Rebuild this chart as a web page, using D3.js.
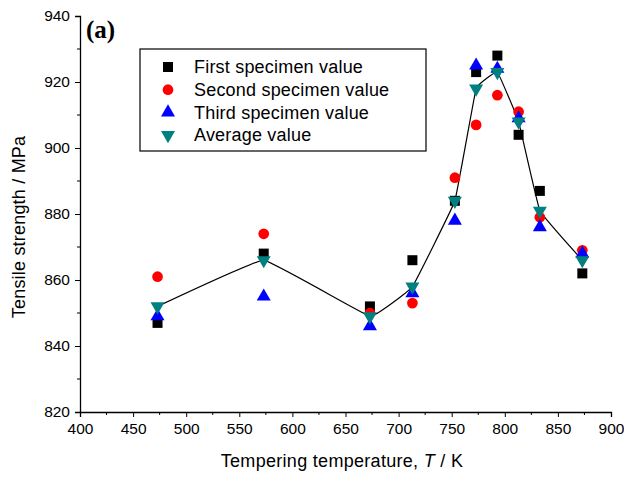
<!DOCTYPE html>
<html>
<head>
<meta charset="utf-8">
<script src="https://cdn.jsdelivr.net/npm/d3@7"></script>
<style>
  body { margin: 0; background: #fff; }
  text { font-family: "Liberation Sans", Arial, sans-serif; }
</style>
</head>
<body>
<svg width="624" height="477"></svg>
<script>
const temps = [473, 573, 673, 713, 753, 773, 793, 813, 833, 873];
const first = [847, 868, 852, 866, 884, 923, 928, 904, 887, 862];
const second = [861, 874, 850, 853, 891, 907, 916, 911, 879, 869];
const third = [849, 855, 846, 856, 878, 925, 924, 909, 876, 868];
const average = [852, 866, 849, 858, 884, 918, 923, 908, 881, 866];
const seriesNames = ['First specimen value', 'Second specimen value', 'Third specimen value', 'Average value'];
const xTicks = [400, 450, 500, 550, 600, 650, 700, 750, 800, 850, 900];
const yTicks = [820, 840, 860, 880, 900, 920, 940];

const svg = d3.select('svg');
const plotLeft = 80, plotRight = 611, plotTop = 16, plotBottom = 412;

const xScale = d3.scaleLinear().domain([400, 900]).range([plotLeft, plotRight]);
const yScale = d3.scaleLinear().domain([820, 940]).range([plotBottom, plotTop]);

// minor ticks
const xMinor = d3.range(425, 900, 50);
const yMinor = d3.range(830, 940, 20);

const xAxis = d3.axisBottom(xScale).tickValues(xTicks).tickSize(5).tickPadding(6);
const gx = svg.append('g')
    .attr('transform', `translate(0, ${plotBottom})`)
    .call(xAxis);
gx.selectAll('.minor')
    .data(xMinor).enter()
    .append('line')
    .attr('x1', d => xScale(d)).attr('x2', d => xScale(d))
    .attr('y1', 0).attr('y2', 3)
    .attr('stroke', '#000');

const yAxis = d3.axisLeft(yScale).tickValues(yTicks).tickSize(5).tickPadding(5);
const gy = svg.append('g')
    .attr('transform', `translate(${plotLeft}, 0)`)
    .call(yAxis);
gy.selectAll('.minor')
    .data(yMinor).enter()
    .append('line')
    .attr('x1', 0).attr('x2', -3)
    .attr('y1', d => yScale(d)).attr('y2', d => yScale(d))
    .attr('stroke', '#000');

[gx, gy].forEach(g => {
  g.select('.domain').attr('stroke', '#000').attr('stroke-width', 1.3);
  g.selectAll('.tick line').attr('stroke', '#000');
  g.selectAll('.tick text')
      .attr('fill', '#000')
      .style('font-size', '15.5px')
      .style('font-family', '"Liberation Sans", Arial, sans-serif');
});

// average line
const line = d3.line()
    .x(d => xScale(d[0]))
    .y(d => yScale(d[1]))
    .curve(d3.curveCardinal.tension(0.8));
svg.append('path')
    .datum(temps.map((t, i) => [t, average[i]]))
    .attr('d', line)
    .attr('fill', 'none')
    .attr('stroke', '#000')
    .attr('stroke-width', 1.2);

const styles = [
  { data: first, symbol: d3.symbolSquare, size: 100, color: '#000000', rotate: 0 },
  { data: second, symbol: d3.symbolCircle, size: 90, color: '#ff0000', rotate: 0 },
  { data: third, symbol: d3.symbolTriangle, size: 85, color: '#0000ff', rotate: 0 },
  { data: average, symbol: d3.symbolTriangle, size: 85, color: '#008080', rotate: 180 }
];

styles.forEach(s => {
  svg.append('g')
      .selectAll('path')
      .data(temps.map((t, i) => [t, s.data[i]]))
      .enter()
      .append('path')
      .attr('d', d3.symbol().type(s.symbol).size(s.size))
      .attr('transform', d => `translate(${xScale(d[0])}, ${yScale(d[1])}) rotate(${s.rotate})`)
      .attr('fill', s.color);
});

// legend
const legend = svg.append('g');
legend.append('rect')
    .attr('x', 140).attr('y', 49)
    .attr('width', 286).attr('height', 102)
    .attr('fill', '#fff')
    .attr('stroke', '#000')
    .attr('stroke-width', 1.2);
styles.forEach((s, i) => {
  const y = 67 + i * 22.7;
  legend.append('path')
      .attr('d', d3.symbol().type(s.symbol).size(s.size))
      .attr('transform', `translate(168, ${y}) rotate(${s.rotate})`)
      .attr('fill', s.color);
  legend.append('text')
      .attr('x', 194).attr('y', y)
      .attr('dy', '0.35em')
      .style('font-size', '18px')
      .style('letter-spacing', '0.2px')
      .text(seriesNames[i]);
});

// labels
svg.append('text')
    .attr('x', 86).attr('y', 38)
    .style('font-family', '"Liberation Serif", "Times New Roman", serif')
    .style('font-weight', 'bold')
    .style('font-size', '25px')
    .text('(a)');

svg.append('text')
    .attr('transform', `translate(25, 227) rotate(-90)`)
    .attr('text-anchor', 'middle')
    .style('font-size', '18px')
    .style('letter-spacing', '0.2px')
    .text('Tensile strength / MPa');

const xt = svg.append('text')
    .attr('x', 342).attr('y', 467)
    .attr('text-anchor', 'middle')
    .style('font-size', '18px')
    .style('letter-spacing', '0.3px');
xt.append('tspan').text('Tempering temperature, ');
xt.append('tspan').style('font-style', 'italic').text('T');
xt.append('tspan').text(' / K');
</script>
</body>
</html>
